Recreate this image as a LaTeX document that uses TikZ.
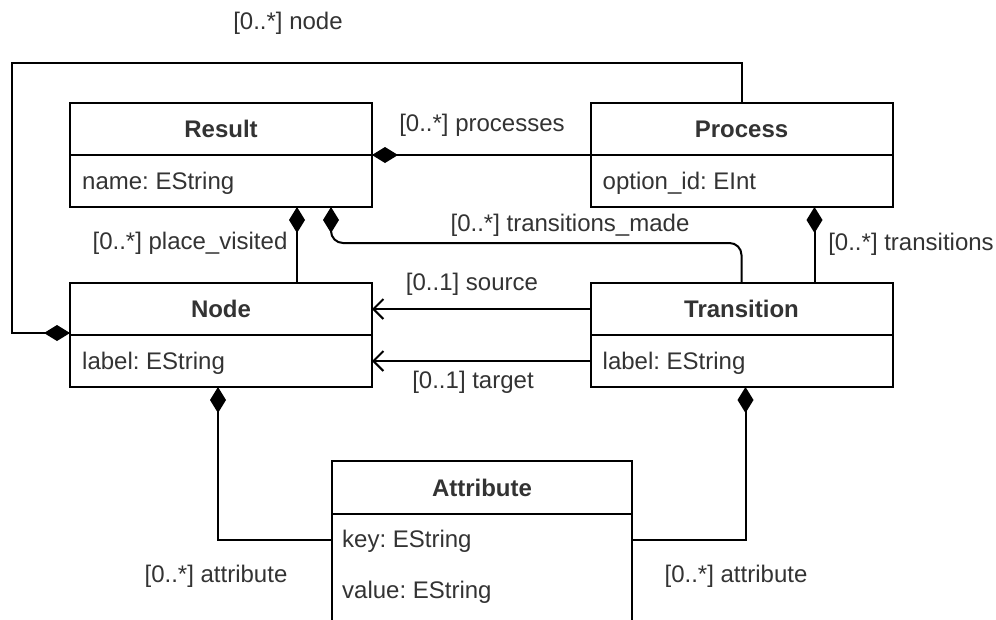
\documentclass[tikz,border=0pt]{standalone}
\usepackage{fontspec}
\setmainfont{Liberation Sans}
\usetikzlibrary{arrows.meta,calc}
\definecolor{textgray}{HTML}{333333}
\definecolor{linec}{HTML}{000000}
\frenchspacing
\begin{document}
\frenchspacing
\begin{tikzpicture}[x=1pt,y=-1pt,
  txt/.style={text=textgray, font=\fontsize{24}{28}\selectfont},
  hdr/.style={draw=linec, line width=2pt, outer sep=0pt, minimum width=302pt, minimum height=52pt, inner sep=0pt, text=textgray, font=\fontsize{24}{28}\selectfont\bfseries},
  bdy/.style={draw=linec, line width=2pt, outer sep=0pt, minimum width=302pt, minimum height=52pt, inner sep=0pt},
  attrtxt/.style={txt, anchor=west, inner sep=0pt},
  lbl/.style={txt, inner sep=0pt},
  conn/.style={draw=linec, line width=2pt},
  comp/.style={conn, -{Diamond[length=26pt,width=16pt]}},
  refa/.style={conn, -{Straight Barb[length=10pt,width=20pt,line width=2pt]}}
]
\useasboundingbox (0,0) rectangle (996,619);
\clip (0,0) rectangle (996,619);
\fill[white] (0,0) rectangle (996,619);

% classes
\node[hdr] (resulth) at (221,129) {Result};
\node[bdy, anchor=north] (resultb) at (resulth.south) {};
\node[attrtxt] (resulta) at ($(resultb.west)+(12,2)$) {name: EString};

\node[hdr] (processh) at (741.5,129) {Process};
\node[bdy, anchor=north] (processb) at (processh.south) {};
\node[attrtxt] (processa) at ($(processb.west)+(12,2)$) {option\_id: EInt};

\node[hdr] (nodeh) at (221,309) {Node};
\node[bdy, anchor=north] (nodeb) at (nodeh.south) {};
\node[attrtxt] (nodea) at ($(nodeb.west)+(12,2)$) {label: EString};

\node[hdr] (transh) at (741.5,309) {Transition};
\node[bdy, anchor=north] (transb) at (transh.south) {};
\node[attrtxt] (transa) at ($(transb.west)+(12,2)$) {label: EString};

\node[hdr, minimum width=300pt, minimum height=53pt] (attrh) at (482,487.5) {Attribute};
\node[bdy, minimum width=300pt, minimum height=140pt, anchor=north] (attrb) at (attrh.south) {};
\node[attrtxt] (attrk) at ($(attrb.north west)+(10,27)$) {key: EString};
\node[attrtxt] (attrv) at ($(attrb.north west)+(10,78)$) {value: EString};

% connectors
\draw[comp] (processh.south west) -- (resulth.south east);
\draw[comp] ($(nodeh.north west)+(227,0)$) -- ($(resultb.south west)+(227,0)$);
\draw[comp, rounded corners=12pt] ($(transh.north west)+(151,0)$) |- ($(resultb.south west)+(261,36)$) -- ($(resultb.south west)+(261,0)$);
\draw[comp] ($(transh.north west)+(224,0)$) -- ($(processb.south west)+(224,0)$);
\draw[comp] ($(processh.north west)+(151,0)$) -- ++(0,-40) -| ($(nodeh.south west)+(-58,-2)$) -- ($(nodeh.south west)+(0,-2)$);
\draw[refa] (transh.west) -- (nodeh.east);
\draw[refa] (transb.west) -- (nodeb.east);
\draw[comp] ($(attrb.north west)+(0,26)$) -| ($(nodeb.south west)+(148,0)$);
\draw[comp] ($(attrb.north east)+(0,26)$) -| ($(transb.south west)+(155,0)$);

% labels
\node[lbl] (lnode) at (288,23) {[0..*] node};
\node[lbl] (lproc) at (482,125) {[0..*] processes};
\node[lbl] (lplace) at (190,243) {[0..*] place\_visited};
\node[lbl] (ltmade) at (570,225) {[0..*] transitions\_made};
\node[lbl] (ltrans) at (911,244) {[0..*] transitions};
\node[lbl] (lsrc) at (472,284) {[0..1] source};
\node[lbl] (ltgt) at (473,382) {[0..1] target};
\node[lbl] (latt1) at (216,576) {[0..*] attribute};
\node[lbl] (latt2) at (736,576) {[0..*] attribute};
\end{tikzpicture}
\end{document}
